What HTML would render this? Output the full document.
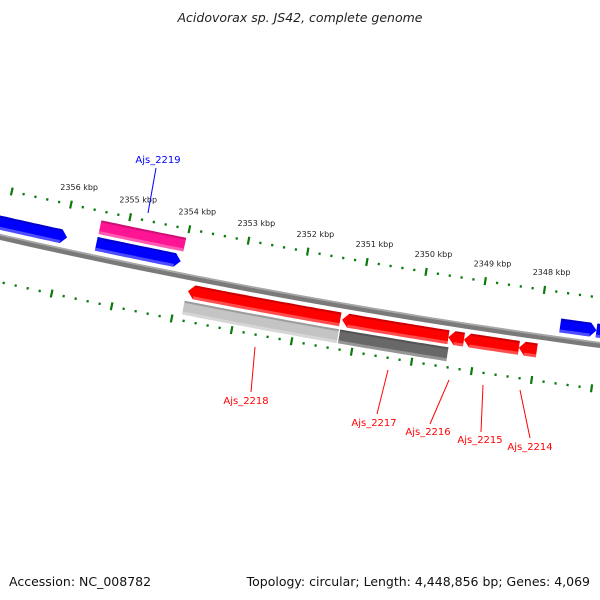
<!DOCTYPE html>
<html><head><meta charset="utf-8">
<style>
html,body{margin:0;padding:0;background:#fff;}
svg{display:block;font-family:"DejaVu Sans","Liberation Sans",sans-serif;}
</style></head>
<body>
<svg id="chart" width="600" height="600" viewBox="0 0 600 600" xmlns="http://www.w3.org/2000/svg">
<text x="300" y="22" text-anchor="middle" font-size="12.5" font-style="italic" fill="#222">Acidovorax sp. JS42, complete genome</text>
<text x="9" y="586" font-size="12.5" fill="#111">Accession: NC_008782</text>
<text x="590" y="586" text-anchor="end" font-size="12.5" fill="#111">Topology: circular; Length: 4,448,856 bp; Genes: 4,069</text>
<g id="layer"></g>
</svg>
<script>
// Data
const majorTicks = [2357, 2356, 2355, 2354, 2353, 2352, 2351, 2350, 2349, 2348, 2347];
const labeledTicks = [2356, 2355, 2354, 2353, 2352, 2351, 2350, 2349, 2348];
const geneNames = ["blue-a", "Ajs_2219", "Ajs_2219-cds", "Ajs_2218", "Ajs_2217", "Ajs_2216", "Ajs_2215", "Ajs_2214", "Ajs_2218-cds", "Ajs_2217-cds", "blue-b", "blue-c"];
const geneStart = [2357.3, 2355.35, 2355.41, 2353.87, 2351.29, 2349.51, 2349.25, 2348.33, 2353.95, 2351.35, 2347.61, 2347.0];
const geneEnd   = [2355.9, 2353.92, 2353.99, 2351.32, 2349.51, 2349.25, 2348.33, 2348.03, 2351.37, 2349.54, 2347.0, 2346.0];
const geneRow   = [-1, -2, -1, 1, 1, 1, 1, 1, 2, 2, -1, -1];
const geneArrow = ["right", "none", "right", "left", "left", "left", "left", "left", "none", "none", "right", "right"];
const geneColor = ["#0000ff", "#ff1493", "#0000ff", "#ff0000", "#ff0000", "#ff0000", "#ff0000", "#ff0000", "#c4c4c4", "#686868", "#0000ff", "#0000ff"];
const labelGenes = ["Ajs_2219", "Ajs_2218", "Ajs_2217", "Ajs_2216", "Ajs_2215", "Ajs_2214"];
const labelColor = ["#0000ff", "#ff0000", "#ff0000", "#ff0000", "#ff0000", "#ff0000"];

const NS = "http://www.w3.org/2000/svg";
const layer = document.getElementById("layer");
function uOf(k){ return 61 + (2356 - k) * 59.6; }
function f(u){ return 237 + 0.2267*u - 7.78e-5*u*u; }
function fp(u){ return 0.2267 - 2*7.78e-5*u; }
function pt(u, d){ const s=fp(u), n=Math.sqrt(1+s*s); return [u - d*s/n, f(u) + d/n]; }
function rowRange(r){ const a = Math.abs(r)===1 ? [7,21] : [24,38]; return r<0 ? [-a[1], -a[0]] : a; }
function mk(tag, attrs){ const e=document.createElementNS(NS, tag); for(const k in attrs) e.setAttribute(k, attrs[k]); layer.appendChild(e); return e; }
function band(u1,u2,d1,d2){ const p=[]; const N=30; for(let i=0;i<=N;i++){const u=u1+(u2-u1)*i/N; p.push(pt(u,d1));} for(let i=N;i>=0;i--){const u=u1+(u2-u1)*i/N; p.push(pt(u,d2));} return p.map(q=>q[0].toFixed(1)+","+q[1].toFixed(1)).join(" "); }

const bb = mk("polygon", {points: band(-10, 610, -3, 3), fill: "#7a7a7a"});


const bb2 = mk("polygon", {points: band(-10, 610, -3, -1.3), fill: "#a8a8a8"});



const upperD = -47, lowerD = 44;
for (let t = majorTicks[0]*5; t >= majorTicks[majorTicks.length-1]*5; t--) {
  const k = t/5, u = uOf(k), major = (t % 5 === 0);
  [upperD, lowerD].forEach((d, idx) => {
    const h = major ? 4 : 1.2;
    const a = pt(u, d - h), b = pt(u, d + h);
    const ln = mk("line", {x1:a[0], y1:a[1], x2:b[0], y2:b[1], stroke:"#0a7a0a", "stroke-width": 2.2});
    
    
  });
}
labeledTicks.forEach(k => {
  const p = pt(uOf(k), upperD - 15);
  const tx = mk("text", {x: p[0]+5, y: p[1], "text-anchor": "middle", "font-size": 8, fill: "#222"});
  tx.textContent = k + " kbp";
  
  
});

geneNames.forEach((name, i) => {
  const [d1, d2] = rowRange(geneRow[i]); const dm = (d1+d2)/2;
  let u1 = uOf(geneStart[i]) + dm*0.2, u2 = uOf(geneEnd[i]) + dm*0.2;
  const head = 6; const pts = [];
  let a = u1, b = u2;
  if (geneArrow[i] === "right") b = u2 - head;
  if (geneArrow[i] === "left") a = u1 + head;
  const N = 30;
  if (geneArrow[i] === "left") pts.push(pt(u1, dm));
  for (let j=0;j<=N;j++) pts.push(pt(a+(b-a)*j/N, d1));
  if (geneArrow[i] === "right") pts.push(pt(u2, dm));
  for (let j=N;j>=0;j--) pts.push(pt(a+(b-a)*j/N, d2));
  const poly = mk("polygon", {points: pts.map(q=>q[0].toFixed(1)+","+q[1].toFixed(1)).join(" "), fill: geneColor[i]});
  
  
  const hi = mk("polygon", {points: band(a, b, d2-3, d2), fill: "#ffffff", "fill-opacity": 0.3});
  
  
  const dk = mk("polygon", {points: band(a, b, d1, d1+2), fill: "#000000", "fill-opacity": 0.2});
  
  
});

const labelPos = [[158,163,156,168,148,213],[246,404,255,347,251,392],[374,426,388,370,377,414],[428,435,449,380,430,424],[480,443,483,385,481,432],[530,450,520,390,530,438]];
labelGenes.forEach((name, i) => {
  const p = labelPos[i];
  const ln = mk("line", {x1:p[2], y1:p[3], x2:p[4], y2:p[5], stroke: labelColor[i], "stroke-width": 1});
  
  
  const tx = mk("text", {x: p[0], y: p[1], "text-anchor": "middle", "font-size": 10, fill: labelColor[i]});
  tx.textContent = name;
  
  
});
</script>
</body></html>
